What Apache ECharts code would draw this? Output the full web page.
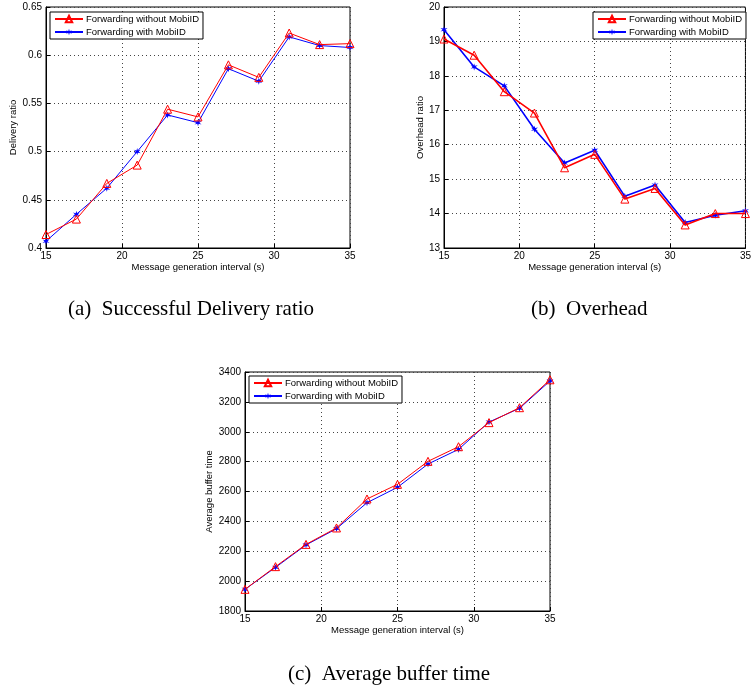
<!DOCTYPE html>
<html>
<head>
<meta charset="utf-8">
<script src="https://cdn.jsdelivr.net/npm/echarts@6/dist/echarts.min.js"></script>
<style>
  html, body { margin: 0; padding: 0; background: #fff; }
  #chart { width: 754px; height: 688px; }
</style>
</head>
<body>
<div id="chart"></div>
<script>
var intervals = [15, 17, 19, 21, 23, 25, 27, 29, 31, 33, 35];

// (a) delivery ratio
var deliveryWithout = [0.414, 0.430, 0.467, 0.486, 0.544, 0.536, 0.590, 0.577, 0.623, 0.611, 0.612];
var deliveryWith    = [0.407, 0.435, 0.462, 0.500, 0.538, 0.530, 0.586, 0.573, 0.619, 0.610, 0.608];

// (b) overhead
var overheadWithout = [19.07, 18.60, 17.54, 16.92, 15.33, 15.72, 14.42, 14.73, 13.67, 14.00, 14.00];
var overheadWith    = [19.34, 18.26, 17.71, 16.45, 15.47, 15.84, 14.50, 14.83, 13.74, 13.95, 14.08];

// (c) average buffer time
var bufferWithout = [1945, 2097, 2246, 2356, 2550, 2648, 2802, 2900, 3061, 3161, 3348];
var bufferWith    = [1945, 2092, 2242, 2351, 2525, 2628, 2784, 2882, 3065, 3157, 3340];

var nameWithout = 'Forwarding without MobiID';
var nameWith = 'Forwarding with MobiID';

var asterisk = 'path://M0,-5L0.9,-1.6L4.3,-2.5L1.8,0L4.3,2.5L0.9,1.6L0,5L-0.9,1.6L-4.3,2.5L-1.8,0L-4.3,-2.5L-0.9,-1.6Z';

function pairs(ys) {
    return intervals.map(function (x, i) { return [x, ys[i]]; });
}

var font = 'Liberation Sans, Arial, sans-serif';

function xAxisFor(idx) {
    return {
        gridIndex: idx,
        type: 'value',
        min: 15, max: 35, interval: 5,
        name: 'Message generation interval (s)',
        nameLocation: 'middle',
        nameGap: 14,
        nameTextStyle: { fontFamily: font, fontSize: 9.5, color: '#000' },
        axisLine: { lineStyle: { color: '#000', width: 1 } },
        axisTick: { inside: true, length: 4, lineStyle: { color: '#000' } },
        axisLabel: { fontFamily: font, fontSize: 10, color: '#000', margin: 3 },
        splitLine: { show: true, lineStyle: { color: '#444', type: [1, 3], width: 1 } }
    };
}

function yAxisFor(idx, min, max, interval, name, gap) {
    return {
        gridIndex: idx,
        type: 'value',
        min: min, max: max, interval: interval,
        name: name,
        nameLocation: 'middle',
        nameGap: gap,
        nameTextStyle: { fontFamily: font, fontSize: 9.5, color: '#000' },
        axisLine: { show: true, lineStyle: { color: '#000', width: 1 } },
        axisTick: { show: true, inside: true, length: 4, lineStyle: { color: '#000' } },
        axisLabel: {
            fontFamily: font, fontSize: 10, color: '#000', margin: 4,
            formatter: function (v) { return String(v); }
        },
        splitLine: { show: true, lineStyle: { color: '#444', type: [1, 3], width: 1 } }
    };
}

function legendFor(idx, left, top) {
    return {
        id: 'lg' + idx,
        data: [nameWithout, nameWith],
        orient: 'vertical',
        left: left, top: top,
        backgroundColor: '#fff',
        borderColor: '#000',
        borderWidth: 1,
        padding: [2, 4, 2, 4],
        itemGap: 3,
        itemWidth: 28,
        itemHeight: 8,
        textStyle: { fontFamily: font, fontSize: 9.5, color: '#000', padding: [0, 0, 0, -2] }
    };
}

function seriesFor(idx, without, withM, lw) {
    return [{
        name: nameWithout,
        type: 'line',
        xAxisIndex: idx, yAxisIndex: idx,
        data: pairs(without),
        symbol: 'triangle',
        symbolSize: 8,
        color: '#ff0000',
        lineStyle: { color: '#ff0000', width: lw },
        itemStyle: { color: 'rgba(255,255,255,0)', borderColor: '#ff0000', borderWidth: 1 },
        z: 3
    }, {
        name: nameWith,
        type: 'line',
        xAxisIndex: idx, yAxisIndex: idx,
        data: pairs(withM),
        symbol: asterisk,
        symbolSize: 7,
        color: '#0000ff',
        lineStyle: { color: '#0000ff', width: lw },
        itemStyle: { color: '#0000ff', borderWidth: 0 },
        z: 2
    }];
}

var chart = echarts.init(document.getElementById('chart'));

var captionStyle = { fontFamily: 'Liberation Serif, Times New Roman, serif', fontSize: 21, fontWeight: 'normal', color: '#000' };

var option = {
    backgroundColor: '#fff',
    animation: false,
    title: [
        { text: '(a)  Successful Delivery ratio', left: 68, top: 299, textStyle: captionStyle, padding: 0 },
        { text: '(b)  Overhead', left: 531, top: 299, textStyle: captionStyle, padding: 0 },
        { text: '(c)  Average buffer time', left: 288, top: 664, textStyle: captionStyle, padding: 0 }
    ],
    legend: [legendFor(0, 50, 12), legendFor(1, 593, 12), legendFor(2, 249, 376)],
    grid: [
        { left: 46, top: 7, width: 304, height: 241, show: true, borderColor: '#000', borderWidth: 1 },
        { left: 444, top: 7, width: 305, height: 241, show: true, borderColor: '#000', borderWidth: 1 },
        { left: 245, top: 372, width: 305, height: 239, show: true, borderColor: '#000', borderWidth: 1 }
    ],
    xAxis: [xAxisFor(0), xAxisFor(1), xAxisFor(2)],
    yAxis: [
        yAxisFor(0, 0.4, 0.65, 0.05, 'Delivery ratio', 22),
        yAxisFor(1, 13, 20, 1, 'Overhead ratio', 17),
        yAxisFor(2, 1800, 3400, 200, 'Average buffer time', 26)
    ],
    series: []
        .concat(seriesFor(0, deliveryWithout, deliveryWith, 1))
        .concat(seriesFor(1, overheadWithout, overheadWith, 1.6))
        .concat(seriesFor(2, bufferWithout, bufferWith, 1))
};

chart.setOption(option);
</script>
</body>
</html>
